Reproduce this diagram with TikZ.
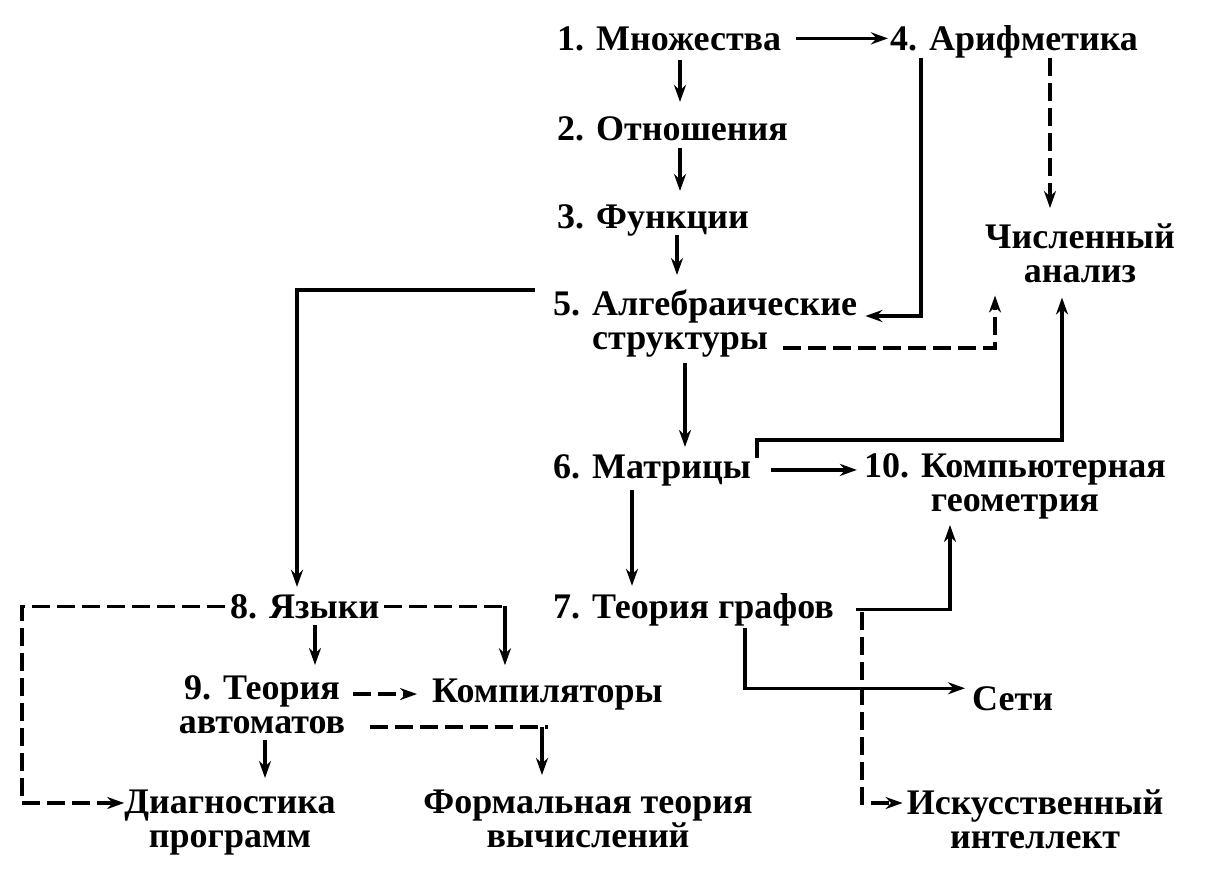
\documentclass[tikz,border=0pt]{standalone}
\usepackage{fontspec}
\setmainfont{Liberation Serif}
\usetikzlibrary{arrows.meta,calc}
\newcommand{\lbfont}{\fontsize{36}{34}\selectfont\bfseries}
\tikzset{
  lbl/.style={inner sep=0pt, font=\lbfont},
  arr/.style={-{Stealth[length=17pt,width=12pt]}, line width=3.2pt},
  ln/.style={line width=3.2pt},
  dsh/.style={dash pattern=on 18pt off 7pt},
}
\begin{document}
\begin{tikzpicture}[x=1pt,y=-1pt]
\useasboundingbox[fill=white] (0,0) rectangle (1216,889);
% nodes
\node[lbl,anchor=base west] (n1) at (557,50) {1. Множества};
\node[lbl,anchor=base west] (n4) at (890,50) {4. Арифметика};
\node[lbl,anchor=base west] (n2) at (557,140) {2. Отношения};
\node[lbl,anchor=base west] (n3) at (557,228) {3. Функции};
\node[lbl,anchor=north west,align=left] (n5) at (553,290) {5. Алгебраические\\\hphantom{5. }структуры};
\node[lbl,anchor=north,align=center] (num) at (1080,224) {Численный\\анализ};
\node[lbl,anchor=base west] (n6) at (553,478) {6. Матрицы};
\node[lbl,anchor=north,align=center] (n10) at (1015,453) {10. Компьютерная\\геометрия};
\node[lbl,anchor=base west] (n7) at (553,618) {7. Теория графов};
\node[lbl,anchor=base west] (n8) at (230,618) {8. Языки};
\node[lbl,anchor=north,align=center] (n9) at (262,675) {9. Теория\\автоматов};
\node[lbl,anchor=base west] (comp) at (432,702) {Компиляторы};
\node[lbl,anchor=north,align=center] (diag) at (230,790) {Диагностика\\программ};
\node[lbl,anchor=north,align=center] (form) at (588,790) {Формальная теория\\вычислений};
\node[lbl,anchor=base west] (seti) at (972,710) {Сети};
\node[lbl,anchor=north,align=center] (ai) at (1035,790) {Искусственный\\интеллект};
% helper coordinates
\coordinate (k4) at (921,316);
\coordinate (s5) at (783,348);
\coordinate (j7) at (862,612);
\coordinate (k8) at (22,700);
\coordinate (m6a) at (757,458);
\coordinate (m6b) at (757,440);
\coordinate (f9) at (370,727);
% connectors
\draw[arr,shorten <=10pt,shorten >=14pt] (n1.base -| 680,0) -- (n2.north -| 680,0);
\draw[arr,shorten <=8pt,shorten >=13pt] (n2.base -| 680,0) -- (n3.north -| 680,0);
\draw[arr,shorten <=7pt,shorten >=15pt] (n3.base -| 677,0) -- (n5.north -| 677,0);
\draw[arr,shorten <=15pt,shorten >=2pt] (n1.east) -- (n4.west |- n1.east);
\draw[arr,shorten >=8pt] (n4.south -| 921,0) -- (k4) -- (n5.east |- k4);
\draw[arr,dsh,shorten >=16pt] (n4.south -| 1050,0) -- (num.north -| 1050,0);
\draw[arr,dsh,shorten >=12pt] (s5) -| (num.south -| 995,0);
\draw[arr,shorten <=18pt,shorten >=7pt] (n5.north west) -| (n8.north -| 297,0);
\draw[arr,shorten <=5pt,shorten >=7pt] (n5.south -| 685,0) -- (n6.north -| 685,0);
\draw[arr,shorten <=4pt,shorten >=7pt] (n6.south -| 632,0) -- (n7.north -| 632,0);
\draw[arr,shorten <=20pt,shorten >=7pt] (n6.east) -- (n10.west |- n6.east);
\draw[arr,shorten >=14pt] (m6a) -- (m6b) -| (num.south -| 1062,0);
\draw[arr,shorten <=22pt,shorten >=6pt] (n7.east) -| (n10.south -| 950,0);
\draw[arr,dsh,shorten >=4pt] (j7) |- ([yshift=-13pt]ai.north west);
\draw[arr,shorten <=2pt,shorten >=7pt] (n7.south -| 745,0) |- ([yshift=10pt]seti.west);
\draw[arr,shorten <=7pt,shorten >=10pt] (n8.base -| 315,0) -- (n9.north -| 315,0);
\draw[ln,dsh,shorten <=5pt] (n8.east) -- (n8.east -| 505,0);
\draw[arr,shorten >=13pt] (n8.east -| 505,0) -- (comp.north -| 505,0);
\draw[arr,dsh,shorten <=5pt] (n8.west) -| (k8) |- ([yshift=-13pt]diag.north west);
\draw[arr,dsh,shorten <=8pt,shorten >=15pt] (n9.east |- comp.west) -- (comp.west);
\draw[ln,dsh] (f9) -- (f9 -| 548,0);
\draw[arr,shorten >=15pt] (f9 -| 542,0) -- (form.north -| 542,0);
\draw[arr,shorten <=6pt,shorten >=12pt] (n9.south -| 265,0) -- (diag.north -| 265,0);
\end{tikzpicture}
\end{document}
